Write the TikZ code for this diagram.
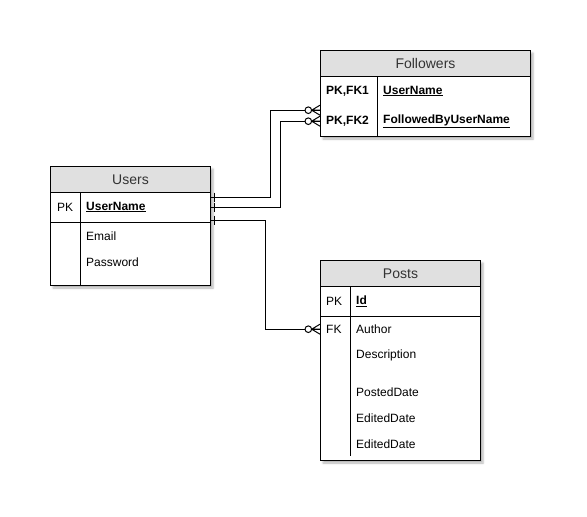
\documentclass[tikz,border=0pt]{standalone}
\usepackage{fontspec}
\setmainfont{Liberation Sans}
\usetikzlibrary{shadows.blur}
\definecolor{headgray}{HTML}{E0E0E0}
\begin{document}
\begin{tikzpicture}[x=1pt,y=-1pt,
  tablebox/.style={draw=black, line width=1pt, fill=white, anchor=north west, inner sep=0pt,
    blur shadow={shadow xshift=2.5pt, shadow yshift=-2.5pt, shadow blur radius=2pt, shadow opacity=30}},
  headbox/.style={draw=black, line width=1pt, fill=headgray, anchor=north west, inner sep=0pt,
    minimum height=26pt, font=\fontsize{14}{16}\selectfont, text=black!80},
  rowbox/.style={anchor=north west, inner sep=0pt, minimum height=30pt},
  keytext/.style={anchor=west, inner sep=0pt, font=\fontsize{12}{14}\selectfont},
  fieldtext/.style={anchor=west, inner sep=0pt, font=\fontsize{12}{14}\selectfont},
  rule/.style={line width=1pt},
  link/.style={line width=1pt, draw=black},
  zeromany/.pic={
    \draw[line width=1pt] (-8.3,0) -- (0,-5) (-8.3,0) -- (0,0) (-8.3,0) -- (0,5);
    \draw[line width=1pt, fill=white] (-11.7,0) circle (3.3);
  },
  mandone/.pic={
    \draw[line width=1pt] (4,-4.5) -- (4,4.5);
  }
]
\useasboundingbox (0,0) rectangle (587,517);

% ---------- Followers ----------
\node[tablebox, minimum width=210pt, minimum height=86pt] (followers) at (320,50) {};
\node[headbox, minimum width=210pt] (followersHead) at (320,50) {Followers};
\node[rowbox, minimum width=210pt] (ffk1) at (320,76) {};
\node[rowbox, minimum width=210pt] (ffk2) at (320,106) {};
\draw[rule] (377,76) -- (377,136);
\node[keytext] (ffk1Key) at (326,91) {\textbf{PK,FK1}};
\node[fieldtext] (ffk1Name) at (383,91) {\textbf{\underline{UserName}}};
\node[keytext] (ffk2Key) at (326,121) {\textbf{PK,FK2}};
\node[fieldtext] (ffk2Name) at (383,121) {\textbf{\underline{FollowedByUserName}}};

% ---------- Users ----------
\node[tablebox, minimum width=160pt, minimum height=119pt] (users) at (50,166) {};
\node[headbox, minimum width=160pt] (usersHead) at (50,166) {Users};
\node[rowbox, minimum width=160pt] (upk) at (50,192) {};
\draw[rule] (upk.south west) -- (upk.south east);
\draw[rule] (80,192) -- (80,285);
\node[keytext] (upkKey) at (57,207) {PK};
\node[fieldtext] (upkName) at (86,207) {\textbf{\underline{UserName}}};
\node[fieldtext] (uemail) at (86,236) {Email};
\node[fieldtext] (upass) at (86,262) {Password};

% ---------- Posts ----------
\node[tablebox, minimum width=160pt, minimum height=200pt] (posts) at (320,260) {};
\node[headbox, minimum width=160pt] (postsHead) at (320,260) {Posts};
\node[rowbox, minimum width=160pt] (ppk) at (320,286) {};
\draw[rule] (ppk.south west) -- (ppk.south east);
\draw[rule] (350,286) -- (350,456);
\node[keytext] (ppkKey) at (326,301) {PK};
\node[fieldtext] (ppkName) at (356,301) {\textbf{\underline{Id}}};
\node[rowbox, minimum width=160pt, minimum height=26pt] (pauthor) at (320,316) {};
\node[keytext] (pfkKey) at (326,329) {FK};
\node[fieldtext] (pauthorName) at (356,329) {Author};
\node[fieldtext] (pdesc) at (356,355) {Description};
\node[fieldtext] (pposted) at (356,392) {PostedDate};
\node[fieldtext] (pedited1) at (356,418) {EditedDate};
\node[fieldtext] (pedited2) at (356,444) {EditedDate};

% ---------- Relationships ----------
\draw[link] ([yshift=10pt]upk.east) -- ++(60,0) |- ([yshift=11pt]ffk2.west);
\draw[link] (upk.east) -- ++(70,0) |- (ffk2.west);
\draw[link] ([yshift=-13pt]upk.east) -- ++(55,0) |- (pauthor.west);

\pic at ([yshift=10pt]upk.east) {mandone};
\pic at (upk.east) {mandone};
\pic at ([yshift=-13pt]upk.east) {mandone};
\pic at ([yshift=11pt]ffk2.west) {zeromany};
\pic at (ffk2.west) {zeromany};
\pic at (pauthor.west) {zeromany};
\end{tikzpicture}
\end{document}
